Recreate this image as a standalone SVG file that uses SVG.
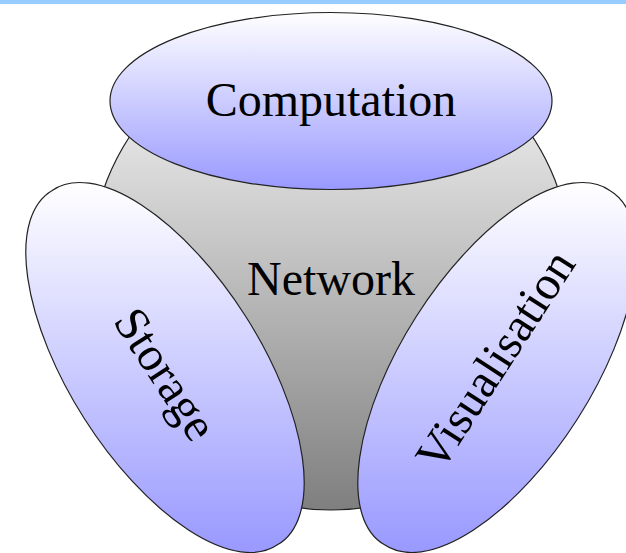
<svg xmlns="http://www.w3.org/2000/svg" width="626" height="553" viewBox="0 0 626 553">
<defs>
<linearGradient id="gGray" gradientUnits="userSpaceOnUse" x1="0" y1="28" x2="0" y2="510">
<stop offset="0" stop-color="#ffffff"/><stop offset="1" stop-color="#7f7f7f"/>
</linearGradient>
<linearGradient id="gTop" gradientUnits="userSpaceOnUse" x1="0" y1="12" x2="0" y2="190">
<stop offset="0" stop-color="#ffffff"/><stop offset="1" stop-color="#9999ff"/>
</linearGradient>
<linearGradient id="gSide" gradientUnits="userSpaceOnUse" x1="0" y1="183" x2="0" y2="552">
<stop offset="0" stop-color="#ffffff"/><stop offset="1" stop-color="#9999ff"/>
</linearGradient>
</defs>
<style>
.shape{stroke:#222;stroke-width:1.2}
.lbl{font-family:"Liberation Serif","Times New Roman",serif;font-size:48px;fill:#000;text-anchor:middle}
</style>
<rect x="0" y="0" width="626" height="4" fill="#99ccff"/>
<g id="network">
<circle class="shape" cx="331" cy="269" r="241" fill="url(#gGray)"/>
<text class="lbl" x="331" y="295">Network</text>
</g>
<g id="computation">
<ellipse class="shape" cx="331" cy="101" rx="221" ry="88.5" fill="url(#gTop)"/>
<text class="lbl" x="331" y="116">Computation</text>
</g>
<g id="storage">
<path class="shape" fill="url(#gSide)" d="M52.2 190.4 A94 210 -32.5 1 0 277.8 544.6 A94 210 -32.5 1 0 52.2 190.4 Z"/>
<text class="lbl" transform="translate(164 375) rotate(57)" y="14">Storage</text>
</g>
<g id="visualisation">
<path class="shape" fill="url(#gSide)" d="M609.8 190.4 A94 210 32.5 1 0 384.2 544.6 A94 210 32.5 1 0 609.8 190.4 Z"/>
<text class="lbl" transform="translate(497 361) rotate(-57)" y="14">Visualisation</text>
</g>
<g id="connectors"/>
</svg>
